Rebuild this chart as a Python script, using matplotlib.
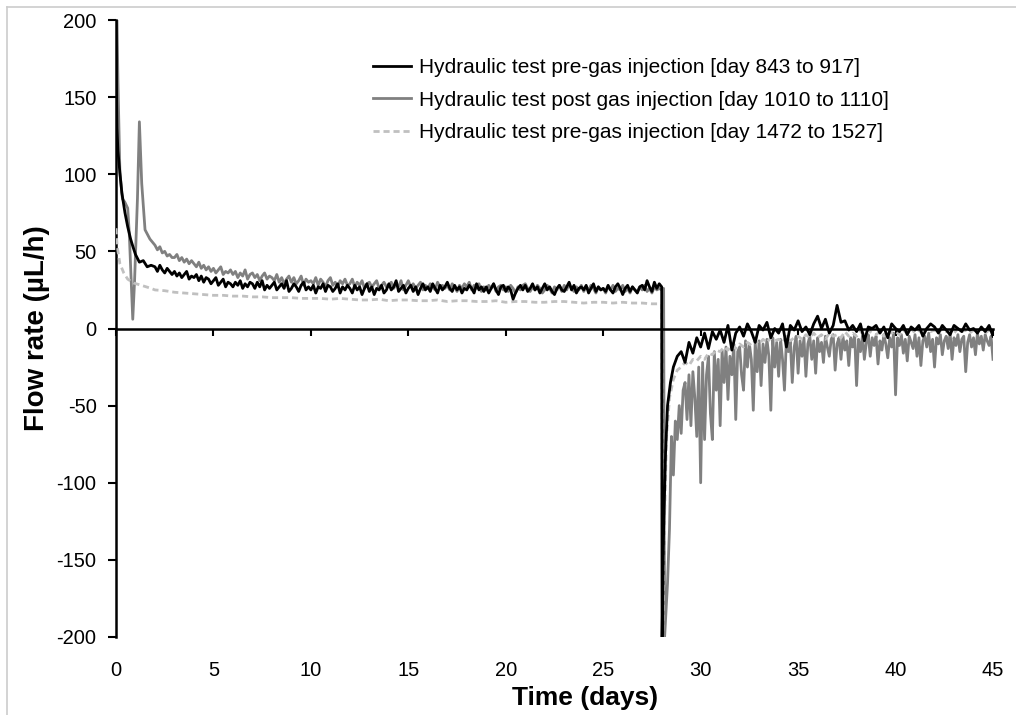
import numpy as np
import matplotlib
matplotlib.use("Agg")
import matplotlib.pyplot as plt
from matplotlib.lines import Line2D

plt.rcParams['font.family'] = ['Liberation Sans', 'DejaVu Sans']
plt.rcParams['axes.unicode_minus'] = False

# ---------------- data ----------------
labels = ["Hydraulic test pre-gas injection [day 843 to 917]",
          "Hydraulic test post gas injection [day 1010 to 1110]",
          "Hydraulic test pre-gas injection [day 1472 to 1527]"]

# Test 1 (black) - injection phase
b_t_early = [0.0, 0.02, 0.05, 0.1, 0.2, 0.3, 0.46, 0.6, 0.75, 0.87, 1.0, 1.2, 1.4, 1.6, 1.8]
b_v_early = [200, 160, 130, 115, 101, 88, 75, 66, 58, 53, 48, 43, 44, 40, 41]
# day 2 .. 28, every 1/8 day
b_v_pos = [40, 37, 41, 38, 36, 39, 37, 35,
           37, 34, 36, 33, 35, 37, 32, 34,
           33, 35, 31, 34, 30, 33, 32, 29,
           31, 33, 28, 30, 32, 27, 30, 29,
           27, 30, 28, 31, 26, 29, 27, 30,
           29, 26, 30, 27, 31, 25, 28, 26,
           28, 30, 25, 27, 29, 26, 31, 24,
           26, 29, 27, 24, 28, 30, 25, 27,
           25, 28, 23, 27, 26, 29, 24, 28,
           27, 24, 26, 29, 23, 27, 25, 28,
           26, 23, 28, 25, 27, 22, 26, 29,
           24, 27, 22, 26, 25, 28, 23, 25,
           29, 25, 27, 31, 24, 26, 28, 23,
           26, 28, 24, 27, 22, 26, 29, 25,
           27, 24, 29, 26, 23, 28, 25, 27,
           30, 26, 24, 28, 25, 27, 23, 26,
           25, 28, 26, 23, 29, 25, 27, 24,
           27, 23, 26, 29, 25, 22, 27, 28,
           24, 27, 25, 19, 23, 26, 28, 25,
           28, 24, 26, 29, 25, 27, 23, 26,
           29, 25, 27, 24, 22, 26, 28, 25,
           24, 27, 30, 25, 28, 23, 26, 27,
           25, 28, 23, 26, 29, 24, 27, 25,
           26, 24, 28, 25, 23, 27, 29, 26,
           22, 26, 28, 24, 27, 25, 23, 27,
           28, 25, 31, 27, 24, 30, 26, 29,
           27]
# Test 1 (black) - withdrawal phase
b_t_neg_early = [28.02, 28.1, 28.2, 28.3, 28.45, 28.6, 28.8]
b_v_neg_early = [-200, -130, -80, -50, -35, -25, -18]
b_v_neg = [-15, -22, -9, -16, -6,
           -12, -3, -13, -2, -7,
           -1, -9, 2, -14, -3,
           1, -5, 3, -2, -9,
           2, -1, 4, -6, 0,
           -3, 3, -12, 2, -1,
           5, -2, 1, -4, 3,
           8, 0, 6, -3, 2,
           15, 4, 5, -1, 2,
           -2, 3, -8, 1, 0,
           2, -3, 1, -6, 3,
           0, -2, 2, -4, 1,
           -1, 2, -5, 0, 3,
           1, -3, 2, -1, -4,
           2, 0, -2, 3, -1,
           0, -3, 1, -2, 2,
           -5]

# Test 2 (dark grey) - injection phase
g_t_early = [0.05, 0.1, 0.2, 0.33, 0.45, 0.6, 0.68, 0.78, 0.86, 0.95, 1.1, 1.2, 1.32, 1.49, 1.74]
g_v_early = [200, 160, 101, 84, 82, 78, 62, 30, 6, 30, 84, 134, 94, 64, 58]
# day 2 .. 28, every 1/8 day
g_v_pos = [54, 51, 53, 49, 50, 47, 48, 46,
           46, 48, 44, 46, 43, 45, 42, 44,
           42, 40, 43, 39, 41, 38, 40, 37,
           39, 36, 38, 40, 35, 37, 36, 38,
           35, 37, 33, 36, 34, 38, 32, 35,
           36, 33, 35, 31, 34, 36, 32, 34,
           33, 31, 35, 30, 33, 29, 32, 34,
           30, 33, 29, 31, 34, 28, 32, 30,
           31, 29, 33, 28, 32, 30, 27, 31,
           33, 28, 30, 27, 31, 29, 32, 28,
           29, 32, 27, 30, 28, 31, 26, 29,
           30, 27, 29, 31, 26, 28, 30, 27,
           28, 30, 26, 29, 27, 31, 25, 28,
           31, 27, 29, 26, 28, 30, 25, 28,
           26, 29, 27, 25, 30, 27, 28, 26,
           28, 25, 29, 27, 24, 28, 26, 29,
           27, 30, 25, 28, 26, 29, 24, 27,
           25, 28, 26, 29, 24, 27, 28, 25,
           27, 24, 28, 26, 23, 27, 25, 28,
           29, 26, 24, 27, 25, 28, 26, 23,
           25, 28, 26, 23, 27, 25, 28, 24,
           28, 25, 29, 26, 24, 27, 25, 28,
           24, 27, 25, 28, 26, 23, 27, 25,
           26, 23, 27, 25, 28, 24, 26, 25,
           28, 24, 26, 23, 27, 25, 24, 27,
           25, 28, 24, 26, 23, 27, 25, 26,
           25]
g_t_end = [28.1]
g_v_end = [26]
# Test 2 (dark grey) - withdrawal phase
g_t_neg_early = [28.15, 28.3]
g_v_neg_early = [-200, -165]
g_v_neg = [-130, -70, -95, -60, -72, -50,
           -68, -40, -35, -59, -30, -63, -28, -45, -70, -25,
           -100, -22, -72, -30, -18, -55, -72, -15, -40, -20,
           -63, -14, -35, -12, -46, -18, -30, -10, -59, -15,
           -12, -30, -40, -8, -25, -10, -20, -53, -9, -28,
           -8, -37, -10, -22, -7, -18, -53, -6, -25, -9,
           -31, -7, -20, -40, -6, -15, -8, -35, -12, -5,
           -29, -8, -18, -6, -31, -10, -5, -20, -8, -29,
           -6, -15, -9, -22, -5, -12, -18, -7, -4, -27,
           -10, -6, -20, -5, -14, -8, -24, -6, -12, -4,
           -37, -7, -15, -5, -20, -9, -4, -18, -6, -11,
           -5, -23, -8, -14, -4, -10, -19, -6, -12, -3,
           -43, -6, -11, -4, -16, -7, -21, -5, -9, -13,
           -4, -18, -6, -24, -8, -5, -12, -3, -15, -7,
           -25, -6, -10, -4, -17, -8, -5, -13, -3, -20,
           -6, -11, -4, -15, -7, -5, -28, -9, -4, -12,
           -6, -17, -3, -10, -5, -14, -4, -8, -11, -5,
           -20]

# Test 3 (light grey dashed) - injection phase
l_t_early = [0.0, 0.05, 0.1, 0.2, 0.4, 0.6, 0.9, 1.3, 1.8]
l_v_early = [65, 55, 50, 42, 36, 32, 29.5, 28, 26]
l_v_pos = [25, 24.5,
           23.5, 23,
           22.5, 22,
           21.5, 21.5,
           21, 21,
           20.5, 20.5,
           20, 20,
           20, 19.5,
           19.5, 19.5,
           19, 19.5,
           19, 18.5,
           18.5, 19,
           18, 18.5,
           18.5, 18,
           18, 18.5,
           17.5, 18,
           18, 17.5,
           17.5, 18,
           17, 17.5,
           17.5, 17,
           17, 17.5,
           17.5, 17,
           16.5, 17,
           17, 16.5,
           17, 16.5,
           16.5, 16,
           16]
# Test 3 (light grey dashed) - withdrawal phase
l_t_neg_early = [28.05, 28.15, 28.25, 28.4, 28.6, 28.8]
l_v_neg_early = [-200, -120, -70, -45, -33, -27]
l_v_neg = [-25, -22, -24, -20, -21,
           -18, -20, -16, -17, -14,
           -15, -12, -14, -11, -13,
           -10, -12, -9, -11, -8,
           -10, -7, -9, -6, -8,
           -7, -9, -5, -8, -6,
           -5, -7, -4, -6, -3,
           -6, -4, -7, -3, -5,
           -4, -6, -2, -5, -3,
           -5, -2, -4, -1, -3,
           -4, -2, -5, -1, -3,
           -2, -4, -1, -3, 0,
           -3, -1, -4, 0, -2,
           -1, -3, 0, -2, -1,
           -3, 0, -2, -1, -3,
           -1, -2, 0, -3, -1,
           -2]

x_ticks = [0, 5, 10, 15, 20, 25, 30, 35, 40, 45]
y_ticks = [-200, -150, -100, -50, 0, 50, 100, 150, 200]

# ---------------- assemble time axes (sampling grids) ----------------
def grid(start, step, n):
    return list(start + step * np.arange(n))

b_t = (b_t_early + grid(2.0, 0.125, len(b_v_pos)) + b_t_neg_early
       + grid(29.0, 0.2, len(b_v_neg)))
b_v = b_v_early + b_v_pos + b_v_neg_early + b_v_neg

g_t = (g_t_early + grid(2.0, 0.125, len(g_v_pos)) + g_t_end + g_t_neg_early
       + grid(28.4, 0.1, len(g_v_neg)))
g_v = g_v_early + g_v_pos + g_v_end + g_v_neg_early + g_v_neg

l_t = (l_t_early + grid(2.0, 0.5, len(l_v_pos)) + l_t_neg_early
       + grid(29.0, 0.2, len(l_v_neg)))
l_v = l_v_early + l_v_pos + l_v_neg_early + l_v_neg

# ---------------- figure ----------------
fig = plt.figure(figsize=(10.16, 7.15), dpi=100)
ax = fig.add_axes([116 / 1016, 1 - 637 / 715, 877 / 1016, 617 / 715])

lg, = ax.plot(g_t, g_v, color='#808080', lw=2.0, zorder=2, label=labels[1])
ll, = ax.plot(l_t, l_v, color='#c0c0c0', lw=2.0, ls=(0, (2.2, 1.4)), zorder=3, label=labels[2])
lb, = ax.plot(b_t, b_v, color='black', lw=2.0, zorder=4, label=labels[0])

ax.set_xlim(0, 45)
ax.set_ylim(-200, 200)
ax.set_yticks(y_ticks)
ax.set_xticks(x_ticks)

for s in ['top', 'right']:
    ax.spines[s].set_visible(False)
ax.spines['left'].set_linewidth(1.8)
ax.spines['bottom'].set_position(('data', 0))
ax.spines['bottom'].set_linewidth(1.8)
ax.spines['bottom'].set_zorder(5)
ax.tick_params(axis='y', direction='out', length=6, width=1.5, labelsize=14.5, pad=8)
ax.tick_params(axis='x', direction='out', length=5, width=1.5, labelbottom=False)

sec = ax.secondary_xaxis('bottom')
sec.set_xticks(x_ticks)
sec.spines['bottom'].set_visible(False)
sec.tick_params(axis='x', length=0, labelsize=14.5, pad=17)

ax.set_xlabel('Time (days)', fontsize=19, fontweight='bold')
ax.xaxis.set_label_coords(0.535, -0.080)
ax.set_ylabel('Flow rate (\u00b5L/h)', fontsize=20, fontweight='bold')
ax.yaxis.set_label_coords(-0.075, 0.5)

ax.legend(handles=[lb, lg, ll], loc='upper left',
          bbox_to_anchor=(373 / 1016, 1 - 58 / 715), bbox_transform=fig.transFigure,
          frameon=False, fontsize=15, handlelength=1.8, handletextpad=0.4,
          labelspacing=0.65, borderpad=0, borderaxespad=0)

# light grey frame at top/left of the picture
fig.add_artist(Line2D([7 / 1016, 7 / 1016], [0, 1 - 7 / 715], transform=fig.transFigure,
                      color='#cccccc', lw=1.2))
fig.add_artist(Line2D([7 / 1016, 1], [1 - 7 / 715, 1 - 7 / 715], transform=fig.transFigure,
                      color='#cccccc', lw=1.2))

fig.savefig('out.png', dpi=100)
